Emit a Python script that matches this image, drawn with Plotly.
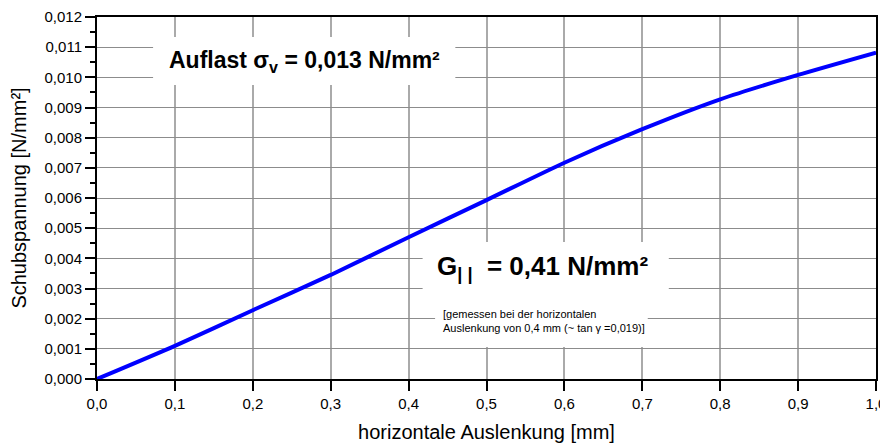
import plotly.graph_objects as go

# Data
auslenkung = [0.0, 0.1, 0.2, 0.3, 0.4, 0.5, 0.6, 0.7, 0.8, 0.9, 1.0]
schubspannung = [0.0, 0.00110, 0.00228, 0.00345, 0.00470, 0.00593, 0.00717, 0.00828, 0.00927, 0.01008, 0.01082]
x_ticks = [0.0, 0.1, 0.2, 0.3, 0.4, 0.5, 0.6, 0.7, 0.8, 0.9, 1.0]
y_ticks = [0.000, 0.001, 0.002, 0.003, 0.004, 0.005, 0.006, 0.007, 0.008, 0.009, 0.010, 0.011, 0.012]

FONT = "Liberation Sans, Arial, Helvetica, sans-serif"

fig = go.Figure()
fig.add_trace(go.Scatter(
    x=auslenkung, y=schubspannung, mode="lines",
    line=dict(color="#0000ff", width=4, shape="spline", smoothing=0.6),
    hoverinfo="skip", showlegend=False,
))

# white boxes covering the grid behind the text
boxes = [
    (0.072, 0.460, 0.00975, 0.01134),
    (0.418, 0.734, 0.00262, 0.00454),
    (0.434, 0.707, 0.00106, 0.00262),
]
for x0, x1, y0, y1 in boxes:
    fig.add_shape(type="rect", xref="x", yref="y", x0=x0, x1=x1, y0=y0, y1=y1,
                  fillcolor="white", line=dict(width=0), layer="between")

fig.add_annotation(
    x=0.266, y=0.01054, xref="x", yref="y", showarrow=False,
    text="<b>Auflast σ<sub>v</sub> = 0,013 N/mm²</b>",
    font=dict(family=FONT, size=23, color="black"),
)
fig.add_annotation(
    x=0.572, y=0.00370, xref="x", yref="y", showarrow=False,
    text="<b>G<sub>| |</sub>  = 0,41 N/mm²</b>",
    font=dict(family=FONT, size=26, color="black"),
)
fig.add_annotation(
    x=0.442, y=0.00192, xref="x", yref="y", showarrow=False, xanchor="left", align="left",
    text="[gemessen bei der horizontalen<br>Auslenkung von 0,4 mm (~ tan γ =0,019)]",
    font=dict(family=FONT, size=11, color="black"),
)

# The page body has an 8px margin, so the figure is sized/offset to fit the 888x447 window
fig.update_layout(
    width=880, height=439,
    margin=dict(l=89, r=12, t=9, b=68),
    paper_bgcolor="white", plot_bgcolor="white",
    separators=",.",
    font=dict(family=FONT, size=15, color="black"),
    xaxis=dict(
        range=[0, 1.0], tickvals=x_ticks, tickformat=".1f",
        showgrid=True, gridcolor="#aaaaaa", gridwidth=1.5,
        showline=True, linecolor="black", linewidth=2, mirror=True,
        ticks="outside", ticklen=10, tickwidth=2, tickcolor="black",
        zeroline=False, automargin=False,
        title=dict(text="horizontale Auslenkung [mm]", font=dict(size=20), standoff=14),
    ),
    yaxis=dict(
        range=[0, 0.012], tickvals=y_ticks, tickformat=".3f",
        showgrid=True, gridcolor="#8c8c8c", gridwidth=1,
        showline=True, linecolor="black", linewidth=2, mirror=True,
        ticks="outside", ticklen=10, tickwidth=2, tickcolor="black",
        minor=dict(dtick=0.0005, ticks="outside", ticklen=5, tickwidth=2, tickcolor="black", showgrid=False),
        zeroline=False, automargin=False,
        title=dict(text="Schubspannung [N/mm²]", font=dict(size=20), standoff=12),
    ),
)

fig.write_html("out.html")
